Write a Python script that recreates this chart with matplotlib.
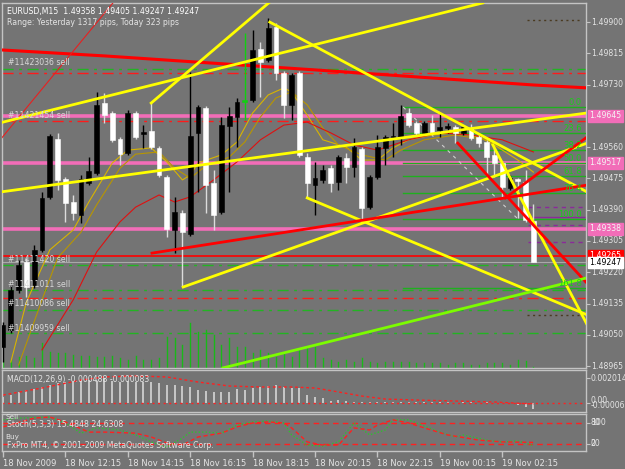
import matplotlib
matplotlib.use("Agg")
import matplotlib.pyplot as plt

BG = "#747474"
FRAME = "#c4c4c4"
TXT = "#e4e4e4"
PINK = "#f26db8"

# --- EURUSD M15 candles (bar 0 = 18 Nov 2009 10:15) ---
opens = [1.49017, 1.49063, 1.49172, 1.49248, 1.49185, 1.49281, 1.49425, 1.49582, 1.49474, 1.49411,
         1.49376, 1.49463, 1.49490, 1.49680, 1.49653, 1.49582, 1.49544, 1.49653, 1.49596, 1.49604,
         1.49558, 1.49479, 1.49335, 1.49381, 1.49324, 1.49599, 1.49666, 1.49463, 1.49384, 1.49618,
         1.49642, 1.49683, 1.49688, 1.49827, 1.49797, 1.49887, 1.49762, 1.49675, 1.49762, 1.49533,
         1.49457, 1.49471, 1.49503, 1.49465, 1.49531, 1.49506, 1.49555, 1.49397, 1.49479, 1.49558,
         1.49588, 1.49585, 1.49653, 1.49626, 1.49599, 1.49626, 1.49607, 1.49612, 1.49615, 1.49599,
         1.49612, 1.49588, 1.49574, 1.49539, 1.49517, 1.49449, 1.49474, 1.49465, 1.49358]
highs = [1.49085, 1.49191, 1.49253, 1.49259, 1.49294, 1.49438, 1.49596, 1.49599, 1.49479, 1.49430,
         1.49484, 1.49533, 1.49710, 1.49707, 1.49658, 1.49588, 1.49661, 1.49658, 1.49620, 1.49680,
         1.49563, 1.49484, 1.49425, 1.49389, 1.49764, 1.49675, 1.49672, 1.49498, 1.49642, 1.49669,
         1.49694, 1.49870, 1.49878, 1.49846, 1.49911, 1.49897, 1.49767, 1.49762, 1.49767, 1.49544,
         1.49520, 1.49512, 1.49512, 1.49539, 1.49544, 1.49585, 1.49560, 1.49484, 1.49593, 1.49593,
         1.49626, 1.49675, 1.49666, 1.49631, 1.49631, 1.49647, 1.49653, 1.49626, 1.49620, 1.49620,
         1.49623, 1.49593, 1.49580, 1.49558, 1.49522, 1.49484, 1.49476, 1.49498, 1.49405]
lows = [1.48976, 1.49055, 1.49164, 1.49153, 1.49177, 1.49275, 1.49419, 1.49444, 1.49357, 1.49362,
        1.49354, 1.49457, 1.49484, 1.49626, 1.49574, 1.49512, 1.49539, 1.49582, 1.49558, 1.49555,
        1.49479, 1.49316, 1.49272, 1.49180, 1.49319, 1.49438, 1.49381, 1.49335, 1.49378, 1.49438,
        1.49560, 1.49634, 1.49683, 1.49696, 1.49791, 1.49743, 1.49639, 1.49634, 1.49533, 1.49422,
        1.49376, 1.49463, 1.49438, 1.49444, 1.49463, 1.49479, 1.49362, 1.49392, 1.49474, 1.49512,
        1.49533, 1.49566, 1.49615, 1.49593, 1.49593, 1.49593, 1.49588, 1.49599, 1.49571, 1.49593,
        1.49580, 1.49560, 1.49484, 1.49479, 1.49425, 1.49444, 1.49368, 1.49357, 1.49247]
closes = [1.49077, 1.49172, 1.49240, 1.49180, 1.49281, 1.49422, 1.49590, 1.49471, 1.49408, 1.49381,
          1.49474, 1.49495, 1.49675, 1.49647, 1.49580, 1.49541, 1.49653, 1.49588, 1.49601, 1.49560,
          1.49484, 1.49338, 1.49384, 1.49329, 1.49590, 1.49669, 1.49457, 1.49376, 1.49620, 1.49645,
          1.49683, 1.49688, 1.49824, 1.49791, 1.49884, 1.49762, 1.49675, 1.49756, 1.49539, 1.49463,
          1.49476, 1.49498, 1.49463, 1.49533, 1.49506, 1.49560, 1.49395, 1.49479, 1.49560, 1.49588,
          1.49590, 1.49645, 1.49620, 1.49599, 1.49626, 1.49599, 1.49615, 1.49618, 1.49599, 1.49615,
          1.49585, 1.49571, 1.49533, 1.49517, 1.49452, 1.49476, 1.49468, 1.49362, 1.49247]
volumes = [160, 160, 220, 240, 200, 500, 320, 300, 300, 260, 240, 240, 220, 220, 240, 200, 160, 240,
           160, 160, 200, 620, 600, 460, 900, 720, 760, 660, 460, 600, 420, 420, 300, 360, 300, 220,
           300, 220, 360, 400, 420, 200, 160, 120, 160, 120, 200, 120, 100, 120, 120, 120, 120, 100,
           100, 100, 100, 60, 100, 100, 60, 60, 100, 100, 100, 60, 160, 140, 20]
marked_bar = 31  # bar drawn in green

time_ticks = [0, 8, 16, 24, 32, 40, 48, 56, 64]
time_labels = ["18 Nov 2009", "18 Nov 12:15", "18 Nov 14:15", "18 Nov 16:15", "18 Nov 18:15",
               "18 Nov 20:15", "18 Nov 22:15", "19 Nov 00:15", "19 Nov 02:15"]

# moving averages (read at a few bars)
gold_fast_x = [1, 3, 6, 9, 11, 14, 16, 19, 21, 23, 24, 25, 28, 30, 32, 34, 36, 37, 39, 41, 44, 46,
               48, 50, 52, 55, 58, 61, 63, 66, 68]
gold_fast = [1.48976, 1.49139, 1.49281, 1.49335, 1.49411, 1.49517, 1.49552, 1.49558, 1.49520,
             1.49471, 1.49484, 1.49517, 1.49539, 1.49574, 1.49653, 1.49702, 1.49721, 1.49710,
             1.49647, 1.49580, 1.49560, 1.49525, 1.49525, 1.49558, 1.49580, 1.49593, 1.49599,
             1.49588, 1.49566, 1.49525, 1.49492]
gold_slow_x = [2, 5, 7, 10, 12, 15, 17, 20, 22, 24, 26, 29, 31, 33, 35, 37, 39, 41, 43, 46, 49, 51,
               54, 58, 62, 65, 68]
gold_slow = [1.48968, 1.49145, 1.49259, 1.49329, 1.49403, 1.49503, 1.49541, 1.49547, 1.49503,
             1.49476, 1.49509, 1.49533, 1.49574, 1.49642, 1.49694, 1.49710, 1.49675, 1.49612,
             1.49566, 1.49539, 1.49525, 1.49552, 1.49580, 1.49593, 1.49580, 1.49552, 1.49512]
red_ma_x = [5, 9, 12, 15, 17, 20, 22, 24, 27, 30, 33, 36, 39, 42, 45, 48, 52, 56, 60, 64, 68]
red_ma = [1.49009, 1.49145, 1.49275, 1.49357, 1.49397, 1.49430, 1.49411, 1.49425, 1.49471, 1.49520,
          1.49580, 1.49620, 1.49628, 1.49599, 1.49566, 1.49552, 1.49580, 1.49599, 1.49593, 1.49580,
          1.49547]
long_ma_x = [0, 13, 25, 40, 55, 68, 75]
long_ma = [1.49824, 1.49808, 1.49791, 1.49770, 1.49748, 1.49729, 1.49721]

# trend lines: (bar0, price0, bar1, price1)
yellow_lines = [(-0.4, 1.49626, 61.5, 1.49952), (19.0, 1.49680, 34.5, 1.49960),
                (23.1, 1.49180, 74.9, 1.49571), (-0.4, 1.49438, 74.9, 1.49653),
                (34.2, 1.49900, 74.9, 1.49438), (39.0, 1.49422, 74.9, 1.49104),
                (62.8, 1.49566, 74.9, 1.49077)]
red_lines = [(19.1, 1.49272, 74.9, 1.49457), (58.3, 1.49571, 74.7, 1.49194),
             (64.4, 1.49422, 74.9, 1.49588)]
thin_red_line = (-0.4, 1.49579, 14.4, 1.49960)
green_line = (28.2, 1.48960, 74.7, 1.49204)

# horizontal levels
pink_levels = [1.49645, 1.49517, 1.49338]
red_level = 1.49265
bid = 1.49247
green_orders = [1.49772, 1.49240, 1.49172, 1.49117, 1.49055]
red_orders = [1.49762, 1.49631, 1.49150]
brown_dots = [1.49906, 1.49104]
purple_dashed = [1.49397, 1.49348, 1.49302]
purple_solid = 1.49370
order_labels = ["#11423036 sell", "#11421454 sell", "#11411420 sell", "#11411011 sell",
                "#11410086 sell", "#11409959 sell"]
order_label_prices = [1.49789, 1.49645, 1.49256, 1.49188, 1.49134, 1.49068]

# fibonacci
fib_start = 51.3
fib_high = 1.49669
fib_low = 1.49365
fib_ratios = [0.0, 23.6, 38.2, 50.0, 61.8, 76.4, 100.0, 161.8]

price_ticks = [1.49900, 1.49815, 1.49730, 1.49560, 1.49475, 1.49390, 1.49305, 1.49220, 1.49135,
               1.49050, 1.48965]

# MACD
macd_hist = [0.00051, 0.00064, 0.00086, 0.00105, 0.00113, 0.00131, 0.00145, 0.00159, 0.00172,
             0.00172, 0.00177, 0.00185, 0.00177, 0.00199, 0.00177, 0.00172, 0.00177, 0.00172,
             0.00172, 0.00167, 0.00159, 0.00145, 0.00145, 0.00139, 0.00131, 0.00105, 0.00097,
             0.00091, 0.00086, 0.00091, 0.00113, 0.00105, 0.00118, 0.00131, 0.00139, 0.00145,
             0.00131, 0.00118, 0.00123, 0.00064, 0.00051, 0.00038, 0.00016, 0.00024, 0.00016,
             0.00012, 0.00010, 0.00012, 0.00010, 0.00011, 0.00010, 0.00012, 0.00010, 0.00009,
             0.00010, 0.00006, 0.00005, 0.00006, 0.00004, 0.00005, 0.00006, 0.00004, 0.00005,
             0.00002, 0.00001, 0.00001, -0.00016, -0.00030, -0.000488]
macd_sig_x = [0, 5, 10, 13, 17, 21, 25, 29, 33, 37, 40, 43, 46, 49, 53, 58, 63, 68]
macd_sig = [0.00064, 0.00121, 0.00185, 0.00210, 0.00218, 0.00210, 0.00169, 0.00137, 0.00129,
            0.00129, 0.00121, 0.00089, 0.00056, 0.00032, 0.00024, 0.00016, 0.00008, -0.000083]

# Stochastic
stoch_x = [0, 2, 6, 8, 10, 12, 15, 17, 19, 21, 23, 24, 26, 28, 30, 32, 34, 36, 37, 39, 41, 43, 45,
           47, 49, 50, 52, 53, 56, 58, 59, 62, 64, 66, 68]
stoch_k = [89, 94, 97, 80, 51, 66, 60, 46, 26, 11, 37, 54, 54, 51, 74, 83, 86, 80, 46, 17, 14, 26,
           80, 46, 60, 89, 89, 80, 54, 40, 46, 31, 26, 29, 15.48]
stoch_sig_x = [0, 4, 6, 8, 11, 13, 17, 19, 21, 23, 25, 28, 30, 32, 34, 36, 37, 39, 41, 43, 45, 47,
               48, 50, 52, 54, 57, 61, 64, 68]
stoch_d = [69, 94, 97, 83, 54, 54, 51, 40, 23, 17, 40, 51, 69, 80, 83, 80, 66, 26, 17, 17, 66, 60,
           74, 89, 80, 66, 46, 31, 26, 24.63]

plt.rcParams["font.family"] = "DejaVu Sans"
plt.rcParams["font.size"] = 5.6

W, H = 625, 469
fig = plt.figure(figsize=(W / 100, H / 100), dpi=100, facecolor=BG)


def panel(top, bottom):
    a = fig.add_axes([2 / W, 1 - bottom / H, 584 / W, (bottom - top) / H])
    a.set_facecolor(BG)
    for s in a.spines.values():
        s.set_color(FRAME)
        s.set_linewidth(1)
    a.set_xlim(-0.13, 74.74)
    a.set_xticks([])
    a.yaxis.tick_right()
    a.tick_params(axis="y", colors=FRAME, length=3, labelright=False)
    return a


ax = panel(3, 368)
ax.set_ylim(1.489598, 1.499518)
ax.set_yticks(price_ticks)
yt = ax.get_yaxis_transform()

# horizontal levels
for p in pink_levels:
    ax.axhline(p, color=PINK, lw=2.6, zorder=2)
for p in green_orders:
    ax.axhline(p, color="#22b422", lw=1, ls=(0, (8, 4, 2, 4)), zorder=2)
for p in red_orders:
    ax.axhline(p, color="#ff1a1a", lw=1, ls=(0, (8, 4, 2, 4)), zorder=2)
ax.axhline(red_level, color="#ff0000", lw=1.2, zorder=2)
ax.axhline(bid, color="#a8a8a8", lw=0.8, zorder=2)
for p in brown_dots:
    ax.plot([67.2, 74.0], [p, p], color="#4a3a20", lw=1, ls=(0, (1.5, 2.5)), zorder=2)
for p in purple_dashed:
    ax.plot([67.3, 74.7], [p, p], color="#8a2a9a", lw=1, ls=(0, (3, 3)), zorder=2)
ax.plot([67.8, 74.7], [purple_solid] * 2, color="#8a2a9a", lw=1, zorder=2)

# fibonacci levels
for r in fib_ratios:
    lvl = fib_high - r / 100 * (fib_high - fib_low)
    ax.plot([fib_start, 74.74], [lvl, lvl], color="#1fb01f", lw=1, zorder=3)
    ax.text(0.993, lvl, f"{r:.1f}", transform=yt, ha="right", va="bottom",
            color="#18d018", fontsize=6, zorder=9)
ax.plot([fib_start, 66.0], [fib_high, fib_low], color="#d0d0d0", lw=0.8, ls=(0, (3, 4)), zorder=3)

# volumes
vt = ax.get_xaxis_transform()
for i, v in enumerate(volumes):
    ax.plot([i, i], [0, v / 7300], color="#19b919", lw=1, transform=vt, zorder=2)

# moving averages
ax.plot(long_ma_x, long_ma, color="#ff0000", lw=2.2, zorder=4)
ax.plot(gold_fast_x, gold_fast, color="#d8b400", lw=0.8, zorder=4)
ax.plot(gold_slow_x, gold_slow, color="#b89600", lw=0.8, zorder=4)
ax.plot(red_ma_x, red_ma, color="#e01010", lw=0.8, zorder=4)

# candles
for i in range(len(opens)):
    o, h, l, c = opens[i], highs[i], lows[i], closes[i]
    if i == marked_bar:
        body, wick = "#10d010", "#10d010"
    elif c >= o:
        body, wick = "#000000", "#000000"
    else:
        body, wick = "#ffffff", "#dcdcdc"
    ax.plot([i, i], [l, h], color=wick, lw=1, zorder=5, solid_capstyle="butt")
    ax.bar(i, max(abs(c - o), 0.00002), width=0.62, bottom=min(o, c), color=body,
           edgecolor=body, lw=0.4, zorder=6)

# trend lines
for x0, p0, x1, p1 in yellow_lines:
    ax.plot([x0, x1], [p0, p1], color="#ffff00", lw=2, zorder=7)
for x0, p0, x1, p1 in red_lines:
    ax.plot([x0, x1], [p0, p1], color="#ff0000", lw=2, zorder=7)
ax.plot(thin_red_line[::2], thin_red_line[1::2], color="#e82020", lw=0.8, zorder=4)
ax.plot(green_line[::2], green_line[1::2], color="#7cfc00", lw=2, zorder=7)

# texts
ax.text(0.009, 0.978, "EURUSD,M15  1.49358 1.49405 1.49247 1.49247", transform=ax.transAxes,
        color="#ffffff", va="center", zorder=9)
ax.text(0.009, 0.947, "Range: Yesterday 1317 pips, Today 323 pips", transform=ax.transAxes,
        color=TXT, va="center", zorder=9)
for lab, p in zip(order_labels, order_label_prices):
    ax.text(0.01, p, lab, transform=yt, color="#d8d8d8", va="center", zorder=9)

# price scale
for p in price_ticks:
    ax.text(1.008, p, f"{p:.5f}", transform=yt, color=TXT, va="center", clip_on=False)
for p in pink_levels:
    ax.text(1.006, p, f"{p:.5f}", transform=yt, color="#f4f4f4", va="center", clip_on=False,
            bbox=dict(boxstyle="square,pad=0.15", fc=PINK, ec=PINK))
ax.text(1.006, red_level, f"{red_level:.5f}", transform=yt, color="#ffffff", va="center",
        clip_on=False, bbox=dict(boxstyle="square,pad=0.15", fc="#ff0000", ec="#ff0000"), zorder=10)
ax.text(1.006, bid, f"{bid:.5f}", transform=yt, color="#000000", va="center", clip_on=False,
        bbox=dict(boxstyle="square,pad=0.15", fc="#ffffff", ec="#ffffff"), zorder=11)

# MACD panel
am = panel(370, 412)
am.set_ylim(-0.000725, 0.00266)
am.set_yticks([0.002014, 0.0])
for i, v in enumerate(macd_hist):
    am.plot([i, i], [0, v], color="#c8c8c8", lw=1.4, solid_capstyle="butt")
am.axhline(0, color="#ff2020", lw=1, ls=(0, (1.5, 2.5)))
am.plot(macd_sig_x, macd_sig, color="#ff2020", lw=1, ls=(0, (2, 2)))
am.text(0.009, 0.78, "MACD(12,26,9) -0.000488 -0.000083", transform=am.transAxes, color=TXT,
        va="center")
myt = am.get_yaxis_transform()
am.text(1.008, 0.002014, "0.002014", transform=myt, color=TXT, va="center", clip_on=False)
am.text(1.008, 0.00018, "0.00", transform=myt, color=TXT, va="center", clip_on=False)
am.text(1.008, -0.00022, "-0.000060", transform=myt, color=TXT, va="center", clip_on=False)

# Stochastic panel
ast = panel(414, 451)
ast.set_ylim(0, 105.7)
ast.set_yticks([80, 20])
ast.axhline(80, color="#ff2020", lw=1, ls=(0, (4, 3)))
ast.axhline(20, color="#ff2020", lw=1, ls=(0, (4, 3)))
ast.plot(stoch_x, stoch_k, color="#2ec22e", lw=1, ls=(0, (1, 1.5)))
ast.plot(stoch_sig_x, stoch_d, color="#ff2020", lw=1, ls=(0, (3, 2)))
ast.text(0.006, 0.93, "Sell", transform=ast.transAxes, color=TXT, va="center", fontsize=5.2)
ast.text(0.009, 0.72, "Stoch(5,3,3) 15.4848 24.6308", transform=ast.transAxes, color=TXT,
         va="center")
ast.text(0.006, 0.38, "Buy", transform=ast.transAxes, color=TXT, va="center", fontsize=5.2)
ast.text(0.009, 0.16, "FxPro MT4, \u00a9 2001-2009 MetaQuotes Software Corp.",
         transform=ast.transAxes, color=TXT, va="center")
syt = ast.get_yaxis_transform()
for lab in ["100", "80"]:
    ast.text(1.008, 80, lab, transform=syt, color=TXT, va="center", clip_on=False)
for lab in ["20", "0"]:
    ast.text(1.008, 20, lab, transform=syt, color=TXT, va="center", clip_on=False)

# time axis
ast.set_xticks(time_ticks)
ast.set_xticklabels(time_labels)
ast.tick_params(axis="x", colors=FRAME, length=4, width=1, labelcolor=TXT, labelsize=6, pad=2)
for t in ast.get_xticklabels():
    t.set_ha("left")

fig.savefig("out.png", dpi=100, facecolor=BG)
